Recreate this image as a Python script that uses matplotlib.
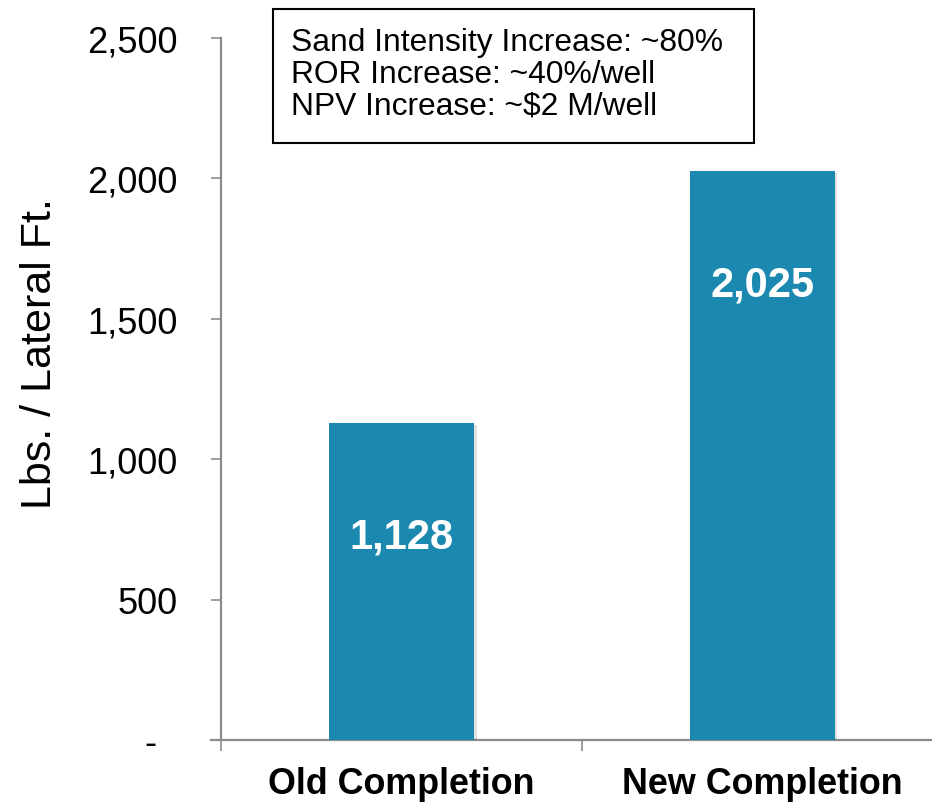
import matplotlib
matplotlib.use("Agg")
import matplotlib.pyplot as plt
import matplotlib.patheffects as pe
from matplotlib.patches import Rectangle
from matplotlib.ticker import FixedLocator, FuncFormatter

plt.rcParams["font.family"] = ["Liberation Sans", "DejaVu Sans"]

categories = ["Old Completion", "New Completion"]
values = [1128, 2025]
y_ticks = [0, 500, 1000, 1500, 2000, 2500]
callout_lines = [
    "Sand Intensity Increase: ~80%",
    "ROR Increase: ~40%/well",
    "NPV Increase: ~$2 M/well",
]

BAR_COLOR = "#1b89af"
AXIS_GRAY = "#8c8c8c"

W, H = 932, 803
fig = plt.figure(figsize=(W / 100, H / 100), dpi=100)

# axes box in pixel terms (left, bottom, right, top from the top edge)
px_left, px_right, px_bottom, px_top = 211, 943, 741, 39
ax = fig.add_axes([px_left / W, (H - px_bottom) / H,
                   (px_right - px_left) / W, (px_bottom - px_top) / H])

x = list(range(len(categories)))
bars = ax.bar(x, values, width=0.40, color=BAR_COLOR, zorder=3)
for b in bars:
    b.set_path_effects([pe.SimplePatchShadow(offset=(2, -1), shadow_rgbFace="#000000", alpha=0.12),
                        pe.Normal()])

ax.set_xlim(-0.528, 1.5)
ax.set_ylim(0, 2500)

for side in ("top", "right"):
    ax.spines[side].set_visible(False)
ax.spines["left"].set_position(("data", -0.5))
for side in ("left", "bottom"):
    ax.spines[side].set_color(AXIS_GRAY)
    ax.spines[side].set_linewidth(1.6)

# y axis
ax.yaxis.set_major_locator(FixedLocator(y_ticks))
ax.yaxis.set_major_formatter(FuncFormatter(lambda v, p: "-  " if v == 0 else f"{int(v):,}"))
ax.tick_params(axis="y", direction="out", length=7.5, width=1.2, color=AXIS_GRAY,
               pad=24, labelsize=26, labelcolor="#000000")

# x axis: boundary ticks, category labels in between
ax.xaxis.set_major_locator(FixedLocator([-0.5, 0.5, 1.5]))
ax.xaxis.set_major_formatter(FuncFormatter(lambda v, p: ""))
ax.xaxis.set_minor_locator(FixedLocator(x))
ax.xaxis.set_minor_formatter(FuncFormatter(lambda v, p: categories[int(round(v))]))
ax.tick_params(axis="x", which="major", direction="out", length=8, width=1.2, color=AXIS_GRAY)
ax.tick_params(axis="x", which="minor", length=0, pad=18.5, labelsize=25.8)
for lbl in ax.get_xticklabels(minor=True):
    lbl.set_fontweight("bold")

# value labels inside bars
for xi, v in zip(x, values):
    ax.annotate(f"{v:,}", xy=(xi, v), xytext=(0, -81.5), textcoords="offset points",
                ha="center", va="center", color="white", fontsize=30,
                fontweight="bold", zorder=4)

# y axis title
fig.text(40 / W, 1 - 354 / H, "Lbs. / Lateral Ft.", rotation=90,
         ha="center", va="center", fontsize=31)

# callout box
bx0, by0, bx1, by1 = 273, 10, 754, 144
fig.patches.append(Rectangle((bx0 / W, 1 - by1 / H), (bx1 - bx0) / W, (by1 - by0) / H,
                             transform=fig.transFigure, fill=False,
                             edgecolor="#000000", linewidth=1.5))
for i, line in enumerate(callout_lines):
    fig.text(291 / W, 1 - (51.5 + 31.5 * i) / H, line, ha="left", va="baseline",
             fontsize=22.9, color="#000000")

fig.savefig("out.png", dpi=100)
